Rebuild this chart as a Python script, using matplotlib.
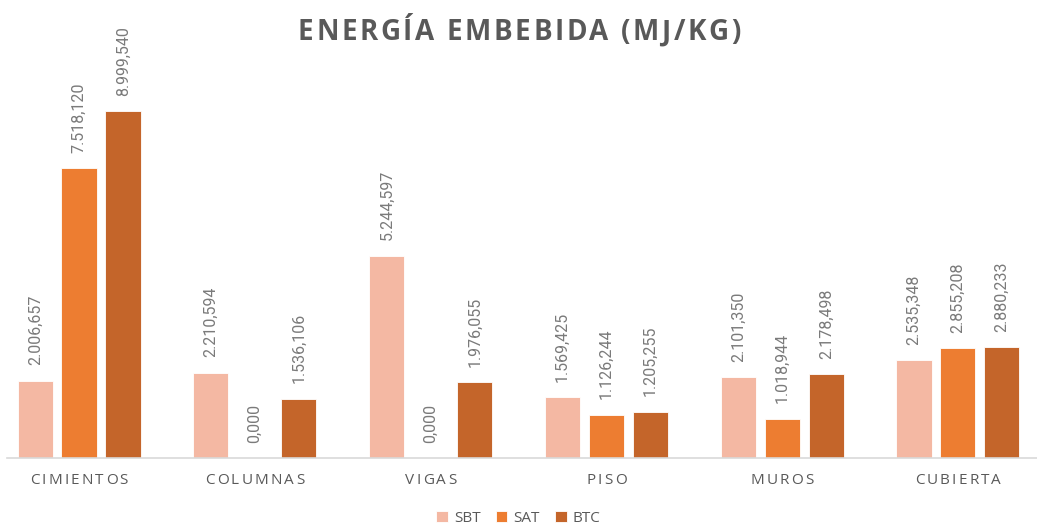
import matplotlib
matplotlib.use("Agg")
import matplotlib.pyplot as plt
import numpy as np

# Datos del gráfico
categorias = ['CIMIENTOS', 'COLUMNAS', 'VIGAS', 'PISO', 'MUROS', 'CUBIERTA']
sbt = [2006.657, 2210.594, 5244.597, 1569.425, 2101.350, 2535.348]
sat = [7518.120, 0.000, 0.000, 1126.244, 1018.944, 2855.208]
btc = [8999.540, 1536.106, 1976.055, 1205.255, 2178.498, 2880.233]
series = ['SBT', 'SAT', 'BTC']
colores = ['#F4B8A3', '#ED7D31', '#C4652A']

plt.rcParams['font.family'] = ['Open Sans', 'DejaVu Sans']


def formato(v):
    # formato español: miles con punto, decimales con coma
    s = f"{v:,.3f}"
    return s.replace(',', '#').replace('.', ',').replace('#', '.')


def ancho_px(fig, r, s, **kw):
    # ancho de un texto en pixeles (el '|' evita perder espacios finales)
    t = fig.text(0, 0, s + '|', **kw)
    w = t.get_window_extent(r).width
    t.remove()
    t = fig.text(0, 0, '|', **kw)
    w -= t.get_window_extent(r).width
    t.remove()
    return w


def texto_espaciado(fig, xc, y, s, esp, **kw):
    # dibuja el texto letra por letra con espaciado extra (px), centrado en xc (px)
    r = fig.canvas.get_renderer()
    total = ancho_px(fig, r, s, **kw) + esp * (len(s) - 1)
    x0 = xc - total / 2
    for i, ch in enumerate(s):
        if ch == ' ':
            continue
        xi = x0 + ancho_px(fig, r, s[:i], **kw) + esp * i
        fig.text(xi / fig.bbox.width, y / fig.bbox.height, ch, ha='left', **kw)


fig = plt.figure(figsize=(10.37, 5.24), dpi=100)
ax = fig.add_axes([7 / 1037, 66 / 524, 1030 / 1037, 385.6 / 524])

x = np.arange(len(categorias))
ancho = 0.2
paso = 0.25
for i, (nombre, vals, c) in enumerate(zip(series, [sbt, sat, btc], colores)):
    pos = x + (i - 1) * paso
    ax.bar(pos, vals, ancho, color=c, label=nombre, edgecolor='white', linewidth=0.6)
    for xp, v in zip(pos, vals):
        ax.annotate(formato(v), (xp, v), xytext=(0, 11), textcoords='offset points',
                    rotation=90, ha='center', va='bottom', fontsize=11.5,
                    color='#7A7A7A', family=['Roboto', 'DejaVu Sans'])

ax.set_xlim(-0.41, 5.45)
ax.set_ylim(0, 10000)
for s in ['top', 'right', 'left']:
    ax.spines[s].set_visible(False)
ax.spines['bottom'].set_color('#D9D9D9')
ax.spines['bottom'].set_linewidth(1.2)
ax.set_yticks([])
ax.set_xticks(x)
ax.set_xticklabels([])
ax.tick_params(axis='x', length=0)

# etiquetas de categoria con espaciado entre letras
for xi, cat in zip(x, categorias):
    xc = ax.transData.transform((xi, 0))[0]
    texto_espaciado(fig, xc, 524 - 480, cat, 2.2, fontsize=11, color='#595959',
                    va='center')

texto_espaciado(fig, 519, 524 - 33, 'ENERGÍA EMBEBIDA (MJ/KG)', 2.6, fontsize=20,
                fontweight='bold', color='#595959', va='center')

fig.legend(loc='lower center', bbox_to_anchor=(0.5, -0.03), ncol=3, frameon=False,
           fontsize=11, handlelength=0.75, handleheight=0.75, columnspacing=1.0,
           handletextpad=0.4, labelcolor='#595959')

fig.savefig('out.png', dpi=100)
